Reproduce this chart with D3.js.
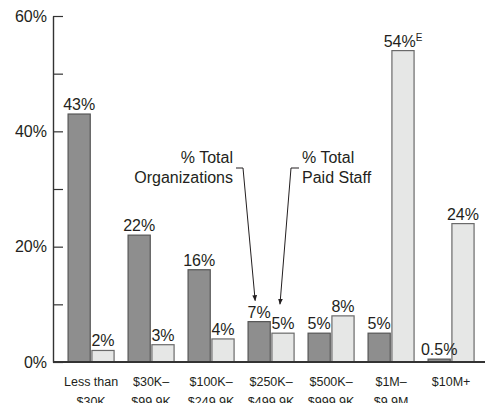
<!DOCTYPE html>
<html>
<head>
<meta charset="utf-8">
<script src="https://cdn.jsdelivr.net/npm/d3@7"></script>
<style>
  body { margin: 0; background: #fff; }
  svg { display: block; font-family: "Liberation Sans", Arial, sans-serif; }
</style>
</head>
<body>
<div id="chart"></div>
<script>
// budget size groups (two label lines each)
const categories = [
  ["Less than", "$30K"],
  ["$30K–", "$99.9K"],
  ["$100K–", "$249.9K"],
  ["$250K–", "$499.9K"],
  ["$500K–", "$999.9K"],
  ["$1M–", "$9.9M"],
  ["$10M+", ""]
];
const orgShare = [43, 22, 16, 7, 5, 5, 0.5];
const staffShare = [2, 3, 4, 5, 8, 54, 24];
const orgLabels = ["43%", "22%", "16%", "7%", "5%", "5%", "0.5%"];
const staffLabels = ["2%", "3%", "4%", "5%", "8%", "54%", "24%"];
const staffNotes = ["", "", "", "", "", "E", ""];
const yTicks = [0, 10, 20, 30, 40, 50, 60];
const yLabels = ["0%", "", "20%", "", "40%", "", "60%"];

const width = 497, height = 403;
const plotLeft = 53, plotRight = 485, plotTop = 16, plotBottom = 362;

const svg = d3.select("#chart").append("svg")
  .attr("width", width)
  .attr("height", height);

const x = d3.scaleBand()
  .domain(d3.range(categories.length))
  .range([plotLeft, plotRight])
  .paddingInner(0.2333)
  .paddingOuter(0.2167)
  .align(0.58);

const xInner = d3.scaleBand()
  .domain(["org", "staff"])
  .range([0, x.bandwidth()])
  .paddingInner(0.07);

const y = d3.scaleLinear().domain([0, 60]).range([plotBottom, plotTop]);

// y axis, ticks pointing inward
const yAxis = svg.append("g")
  .attr("transform", `translate(${plotLeft},0)`)
  .call(d3.axisLeft(y)
    .tickValues(yTicks)
    .tickSizeInner(-10)
    .tickSizeOuter(0)
    .tickPadding(6)
    .tickFormat((d, i) => yLabels[i]));
yAxis.select(".domain").attr("stroke", "#333").attr("stroke-width", 1.4);
yAxis.selectAll(".tick line").attr("stroke", "#333").attr("stroke-width", 1.2);
yAxis.selectAll(".tick text")
  .attr("fill", "#231f20")
  .style("font-size", "16px")
  .style("font-family", "'Liberation Sans', Arial, sans-serif");

const groups = svg.selectAll("g.grp")
  .data(categories)
  .enter().append("g")
  .attr("class", "grp")
  .attr("transform", (d, i) => `translate(${x(i)},0)`);

// organizations bars
groups.append("rect")
  .attr("x", xInner("org"))
  .attr("y", (d, i) => y(orgShare[i]))
  .attr("width", xInner.bandwidth())
  .attr("height", (d, i) => y(0) - y(orgShare[i]))
  .attr("fill", "#8e8e8e")
  .attr("stroke", "#555")
  .attr("stroke-width", 1.2);

// paid staff bars
groups.append("rect")
  .attr("x", xInner("staff"))
  .attr("y", (d, i) => y(staffShare[i]))
  .attr("width", xInner.bandwidth())
  .attr("height", (d, i) => y(0) - y(staffShare[i]))
  .attr("fill", "#e6e7e6")
  .attr("stroke", "#6a6a6a")
  .attr("stroke-width", 1.2);

// value labels
groups.append("text")
  .attr("x", xInner("org") + xInner.bandwidth() / 2)
  .attr("y", (d, i) => y(orgShare[i]) - 4)
  .attr("text-anchor", "middle")
  .attr("fill", "#231f20")
  .style("font-size", "16px")
  .text((d, i) => orgLabels[i]);

const staffText = groups.append("text")
  .attr("x", xInner("staff") + xInner.bandwidth() / 2)
  .attr("y", (d, i) => y(staffShare[i]) - 4)
  .attr("text-anchor", "middle")
  .attr("fill", "#231f20")
  .style("font-size", "16px");
staffText.append("tspan").text((d, i) => staffLabels[i]);
staffText.append("tspan")
  .attr("dy", "-0.6em")
  .style("font-size", "10px")
  .text((d, i) => staffNotes[i]);

// baseline
svg.append("line")
  .attr("x1", plotLeft).attr("x2", plotRight)
  .attr("y1", y(0)).attr("y2", y(0))
  .attr("stroke", "#333")
  .attr("stroke-width", 2);

// category labels
const catText = groups.append("text")
  .attr("text-anchor", "middle")
  .attr("fill", "#231f20")
  .style("font-size", "12.5px");
catText.append("tspan")
  .attr("x", x.bandwidth() / 2)
  .attr("y", 386)
  .text(d => d[0]);
catText.append("tspan")
  .attr("x", x.bandwidth() / 2)
  .attr("y", 406)
  .text(d => d[1]);

// callouts
svg.append("defs").append("marker")
  .attr("id", "arrow")
  .attr("viewBox", "0 0 10 10")
  .attr("refX", 9).attr("refY", 5)
  .attr("markerWidth", 6).attr("markerHeight", 6)
  .attr("orient", "auto")
  .append("path")
  .attr("d", "M0,1 L10,5 L0,9 z")
  .attr("fill", "#231f20");

const orgTip = [x(3) + xInner("org") + xInner.bandwidth() / 2 - 4, y(orgShare[3]) - 21];
const staffTip = [x(3) + xInner("staff") + xInner.bandwidth() / 2 - 3, y(staffShare[3]) - 29];

svg.append("path")
  .attr("d", `M236,168 L243,168 L${orgTip[0]},${orgTip[1]}`)
  .attr("fill", "none")
  .attr("stroke", "#231f20")
  .attr("stroke-width", 1)
  .attr("marker-end", "url(#arrow)");

svg.append("path")
  .attr("d", `M299,168 L291,168 L${staffTip[0]},${staffTip[1]}`)
  .attr("fill", "none")
  .attr("stroke", "#231f20")
  .attr("stroke-width", 1)
  .attr("marker-end", "url(#arrow)");

const orgNote = svg.append("text")
  .attr("text-anchor", "end")
  .attr("fill", "#231f20")
  .style("font-size", "16px");
orgNote.append("tspan").attr("x", 233).attr("y", 163).text("% Total");
orgNote.append("tspan").attr("x", 233).attr("y", 183).text("Organizations");

const staffNote = svg.append("text")
  .attr("text-anchor", "start")
  .attr("fill", "#231f20")
  .style("font-size", "16px");
staffNote.append("tspan").attr("x", 302).attr("y", 163).text("% Total");
staffNote.append("tspan").attr("x", 302).attr("y", 183).text("Paid Staff");
</script>
</body>
</html>
